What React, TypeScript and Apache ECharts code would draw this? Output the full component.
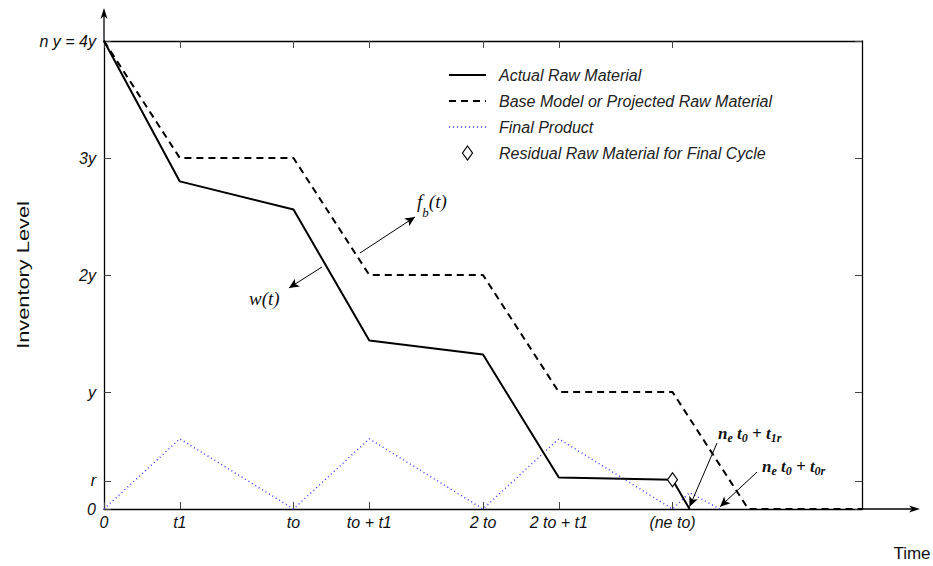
import React, { useEffect, useRef } from "react";
import * as echarts from "echarts";

// ---- tick positions (in units of t0 on x, y on the vertical) ----
const xTickValues = [0, 0.4, 1, 1.4, 2, 2.4, 3];
const xTickLabels = ["0", "t1", "to", "to + t1", "2 to", "2 to + t1", "(ne to)"];
const yTickValues = [0, 0.24, 1, 2, 3, 4];
const yTickLabels = ["0", "r", "y", "2y", "3y", "n y = 4y"];

// ---- series ----
const actualX = [0, 0.4, 1, 1.4, 2, 2.4, 3, 3.09];
const actualY = [4, 2.8, 2.56, 1.44, 1.32, 0.27, 0.25, 0];
const baseX = [0, 0.4, 1, 1.4, 2, 2.4, 3, 3.4, 4];
const baseY = [4, 3, 3, 2, 2, 1, 1, 0, 0];
const productX = [0, 0.4, 1, 1.4, 2, 2.4, 3, 3.09, 3.25];
const productY = [0, 0.6, 0, 0.6, 0, 0.6, 0, 0.14, 0];
const residualX = [3];
const residualY = [0.25];

const seriesNames = [
  "Actual Raw Material",
  "Base Model or Projected Raw Material",
  "Final Product",
  "Residual Raw Material for Final Cycle",
];

// ---- annotation arrows (data coordinates) ----
const arrowFrom = [
  [1.351, 2.188],
  [1.15, 2.068],
  [3.235, 0.564],
  [3.446, 0.316],
];
const arrowTo = [
  [1.641, 2.496],
  [0.976, 1.889],
  [3.09, 0.02],
  [3.251, 0.02],
];

// ---- annotation text anchors (left / middle, data coordinates) ----
const labelAnchors = [
  [1.652, 2.63],
  [0.765, 1.795],
  [3.24, 0.645],
  [3.472, 0.36],
];

const zip = (xs: number[], ys: number[]) => xs.map((x, i) => [x, ys[i]]);
const lookup = (vals: number[], labels: string[]) => (v: number) => {
  const i = vals.findIndex((t) => Math.abs(t - v) < 1e-6);
  return i >= 0 ? labels[i] : "";
};

const SANS = "Liberation Sans, Arial, sans-serif";
const SERIF = "Liberation Serif, Times New Roman, serif";
const BLUE = "#3d3dff";

const axisLine = { show: true, onZero: false, lineStyle: { color: "#000", width: 1.3 } };
const tickStyle = { color: "#444", width: 1 };

export default function App() {
  const ref = useRef<HTMLDivElement>(null);
  useEffect(() => {
    const chart = echarts.init(ref.current!, undefined, { renderer: "svg" });
    const option: any = {
      animation: false,
      backgroundColor: "#fff",
      grid: { left: 104, top: 41, width: 758, height: 468 },
      legend: {
        orient: "vertical",
        left: 443,
        top: 62,
        itemWidth: 37,
        itemHeight: 14,
        itemGap: 10,
        selectedMode: false,
        data: [
          { name: seriesNames[0], itemStyle: { opacity: 0 }, lineStyle: { color: "#000", width: 2, type: "solid" } },
          { name: seriesNames[1], itemStyle: { opacity: 0 }, lineStyle: { color: "#000", width: 2, type: [7, 5] } },
          { name: seriesNames[2], itemStyle: { opacity: 0 }, lineStyle: { color: BLUE, width: 1.5, type: [1, 3] } },
          {
            name: seriesNames[3],
            icon: "path://M5,0L10,7L5,14L0,7Z",
            itemStyle: { color: "#fff", borderColor: "#000", borderWidth: 1.2, opacity: 1 },
          },
        ],
        symbolKeepAspect: true,
        textStyle: {
          fontFamily: SANS,
          fontStyle: "italic",
          fontSize: 16,
          lineHeight: 16,
          color: "#222",
          padding: [0, 0, 0, 8],
        },
      },
      xAxis: [
        {
          type: "value",
          min: 0,
          max: 4,
          position: "bottom",
          axisLine,
          splitLine: { show: false },
          axisTick: { show: true, inside: true, length: 7, customValues: xTickValues, lineStyle: tickStyle },
          axisLabel: {
            customValues: xTickValues,
            formatter: lookup(xTickValues, xTickLabels),
            fontFamily: SANS,
            fontStyle: "italic",
            fontSize: 16,
            color: "#111",
            margin: 5,
          },
        },
        {
          type: "value",
          min: 0,
          max: 4,
          position: "top",
          axisLine,
          splitLine: { show: false },
          axisTick: { show: true, inside: true, length: 7, customValues: xTickValues, lineStyle: tickStyle },
          axisLabel: { show: false },
        },
      ],
      yAxis: [
        {
          type: "value",
          min: 0,
          max: 4,
          position: "left",
          axisLine,
          splitLine: { show: false },
          axisTick: { show: true, inside: true, length: 7, customValues: yTickValues, lineStyle: tickStyle },
          axisLabel: {
            customValues: yTickValues,
            formatter: lookup(yTickValues, yTickLabels),
            fontFamily: SANS,
            fontStyle: "italic",
            fontSize: 16,
            color: "#111",
            margin: 8,
          },
        },
        {
          type: "value",
          min: 0,
          max: 4,
          position: "right",
          axisLine,
          splitLine: { show: false },
          axisTick: { show: true, inside: true, length: 7, customValues: yTickValues, lineStyle: tickStyle },
          axisLabel: { show: false },
        },
      ],
      series: [
        {
          name: seriesNames[0],
          type: "line",
          data: zip(actualX, actualY),
          symbol: "none",
          z: 4,
          color: "#000",
          lineStyle: { color: "#000", width: 2, type: "solid" },
          markLine: {
            silent: true,
            symbol: ["none", "arrow"],
            symbolSize: [7, 10],
            label: { show: false },
            lineStyle: { color: "#000", width: 1, type: "solid" },
            emphasis: { disabled: true },
            animation: false,
            data: arrowFrom.map((f, i) => [{ coord: f }, { coord: arrowTo[i] }]),
          },
        },
        {
          name: seriesNames[1],
          type: "line",
          data: zip(baseX, baseY),
          symbol: "none",
          z: 3,
          color: "#000",
          lineStyle: { color: "#000", width: 2, type: [7, 5] },
        },
        {
          name: seriesNames[2],
          type: "line",
          data: zip(productX, productY),
          symbol: "none",
          z: 2,
          color: BLUE,
          lineStyle: { color: BLUE, width: 1.5, type: [1, 3] },
        },
        {
          name: seriesNames[3],
          type: "scatter",
          data: zip(residualX, residualY),
          symbol: "diamond",
          symbolSize: [10, 14],
          z: 5,
          itemStyle: { color: "#fff", borderColor: "#000", borderWidth: 1.2, opacity: 1 },
        },
      ],
    };
    chart.setOption(option);

    const P = (p: number[]) => chart.convertToPixel({ seriesIndex: 0 }, p) as number[];
    const top = P([0, 4]);
    const bottom = P([0, 0]);
    const right = P([4, 0]);
    const arrowHead = (tip: number[], dir: "up" | "right") => {
      const [x, y] = tip;
      const pts =
        dir === "up"
          ? [[x, y], [x - 3.5, y + 11], [x, y + 8], [x + 3.5, y + 11]]
          : [[x, y], [x - 11, y - 3.5], [x - 8, y], [x - 11, y + 3.5]];
      return { type: "polygon", shape: { points: pts }, style: { fill: "#000" }, z: 10 };
    };

    const serifItalic = { fontFamily: SERIF, fontStyle: "italic" };
    const boldSerif = { fontFamily: SERIF, fontStyle: "italic", fontWeight: "bold" };
    const a = labelAnchors.map(P);

    const graphic: any[] = [
      { type: "line", shape: { x1: top[0], y1: top[1], x2: top[0], y2: top[1] - 30 }, style: { stroke: "#000", lineWidth: 1.3 } },
      arrowHead([top[0], top[1] - 33], "up"),
      { type: "line", shape: { x1: right[0], y1: right[1], x2: right[0] + 55, y2: right[1] }, style: { stroke: "#000", lineWidth: 1.3 } },
      arrowHead([right[0] + 58, right[1]], "right"),
      {
        type: "text",
        x: 23,
        y: (top[1] + bottom[1]) / 2,
        rotation: Math.PI / 2,
        scaleX: 1.32,
        style: { text: "Inventory Level", fontFamily: SANS, fontSize: 16.5, fill: "#111", align: "center", verticalAlign: "middle" },
      },
      {
        type: "text",
        x: 912,
        y: 553,
        style: { text: "Time", fontFamily: SANS, fontSize: 17, fill: "#111", align: "center", verticalAlign: "middle" },
      },
      {
        type: "text",
        x: a[0][0],
        y: a[0][1],
        style: {
          text: "{m|f}{s|b}{m|(t)}",
          align: "left",
          verticalAlign: "middle",
          fill: "#111",
          rich: {
            m: { ...serifItalic, fontSize: 19, lineHeight: 36, verticalAlign: "middle", fill: "#111" },
            s: { ...serifItalic, fontSize: 13, lineHeight: 13, verticalAlign: "bottom", fill: "#111" },
          },
        },
      },
      {
        type: "text",
        x: a[1][0],
        y: a[1][1],
        style: { text: "w(t)", ...serifItalic, fontSize: 19, fill: "#111", align: "left", verticalAlign: "middle" },
      },
      ...["1r", "0r"].map((sub, i) => ({
        type: "text",
        x: a[2 + i][0],
        y: a[2 + i][1],
        style: {
          text: "{m|n}{s|e}{m| t}{s|0}{m| + t}{s|" + sub + "}",
          align: "left",
          verticalAlign: "middle",
          fill: "#111",
          rich: {
            m: { ...boldSerif, fontSize: 17, lineHeight: 20, verticalAlign: "middle", fill: "#111" },
            s: { ...boldSerif, fontSize: 12, lineHeight: 10, verticalAlign: "bottom", fill: "#111" },
          },
        },
      })),
    ];
    chart.setOption({ graphic });
    return () => chart.dispose();
  }, []);
  return <div ref={ref} style={{ position: "fixed", left: 0, top: 0, width: 933, height: 566 }} />;
}
